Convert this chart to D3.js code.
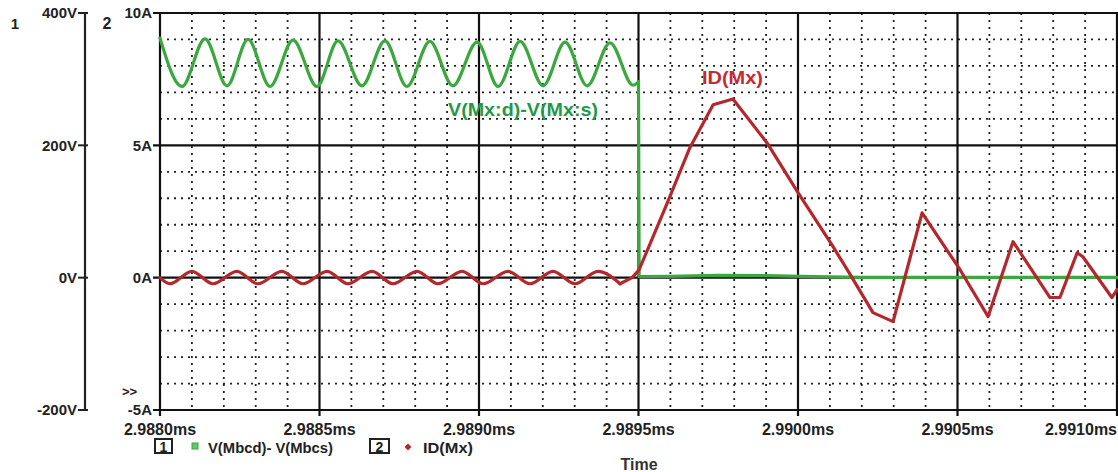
<!DOCTYPE html>
<html>
<head>
<meta charset="utf-8">
<script src="https://cdn.jsdelivr.net/npm/d3@7"></script>
<style>
  html, body { margin: 0; padding: 0; background: #fff; }
  svg { display: block; }
  text { font-family: "Liberation Sans", Arial, sans-serif; font-weight: bold; }
</style>
</head>
<body>
<svg id="chart" width="1118" height="472"></svg>
<script>
// ---------- data ----------
const timeTicks = [2.9880, 2.9885, 2.9890, 2.9895, 2.9900, 2.9905, 2.9910];
const timeTickLabels = ["2.9880ms", "2.9885ms", "2.9890ms", "2.9895ms", "2.9900ms", "2.9905ms", "2.9910ms"];
const voltTicks = [-200, 0, 200, 400];
const voltTickLabels = ["-200V", "0V", "200V", "400V"];
const currTicks = [-5, 0, 5, 10];
const currTickLabels = ["-5A", "0A", "5A", "10A"];
const seriesNames = ["V(Mbcd)- V(Mbcs)", "ID(Mx)"];
const traceLabels = ["V(Mx:d)-V(Mx:s)", "ID(Mx)"];

// V(Mx:d)-V(Mx:s) before switching (time ms, volts)
const vdsRippleTime = [2.988000, 2.988069, 2.988141, 2.988210, 2.988276, 2.988345, 2.988417, 2.988492, 2.988558, 2.988633, 2.988705, 2.988774, 2.988846, 2.988918, 2.988994, 2.989060, 2.989129, 2.989201, 2.989270, 2.989339, 2.989411, 2.989483, 2.989500];
const vdsRippleValue = [362, 289, 361, 290, 360, 289, 359, 289, 358, 290, 358, 289, 357, 290, 356, 289, 357, 290, 356, 290, 355, 291, 296];
// V(Mx:d)-V(Mx:s) after switching
const vdsAfterTime = [2.989500, 2.989502, 2.989600, 2.989750, 2.989900, 2.990050, 2.990200, 2.991000];
const vdsAfterValue = [296, 1.5, 2, 3.5, 3, 1.5, 0.5, 0.5];

// ID(Mx) before switching (time ms, amps)
const idRippleTime = [2.988000, 2.988031, 2.988100, 2.988166, 2.988241, 2.988307, 2.988382, 2.988448, 2.988524, 2.988589, 2.988665, 2.988730, 2.988806, 2.988871, 2.988947, 2.989013, 2.989091, 2.989160, 2.989232, 2.989301, 2.989373, 2.989442];
const idRippleValue = [0.0, -0.23, 0.24, -0.23, 0.24, -0.23, 0.24, -0.23, 0.24, -0.23, 0.24, -0.23, 0.24, -0.23, 0.24, -0.23, 0.24, -0.23, 0.24, -0.23, 0.24, -0.23];
// ID(Mx) after switching
const idAfterTime = [2.989442, 2.989480, 2.989502, 2.989589, 2.989661, 2.989734, 2.989796, 2.989903, 2.990000, 2.990110, 2.990160, 2.990235, 2.990298, 2.990389, 2.990508, 2.990596, 2.990674, 2.990790, 2.990821, 2.990875, 2.990893, 2.990984, 2.991000];
const idAfterValue = [-0.23, 0.0, 0.30, 2.79, 4.91, 6.53, 6.75, 5.09, 3.21, 1.17, 0.19, -1.32, -1.66, 2.45, 0.30, -1.47, 1.36, -0.75, -0.75, 0.94, 0.79, -0.75, -0.45];

// ---------- layout ----------
const svg = d3.select("#chart");
const plotL = 160, plotR = 1117, plotT = 13, plotB = 410;
const x = d3.scaleLinear().domain([2.9880, 2.9910]).range([plotL, plotR]);
const yI = d3.scaleLinear().domain([-5, 10]).range([plotB, plotT]);
const yV = d3.scaleLinear().domain([-200, 400]).range([plotB, plotT]);

const green = "#3aa83e", red = "#b3282c";

// minor grid (dotted)
const grid = svg.append("g");
const minorT = d3.range(0, 31).filter(i => i % 5 !== 0).map(i => 2.9880 + i * 0.0001);
grid.selectAll("line.mv").data(minorT).join("line")
  .attr("x1", d => x(d)).attr("x2", d => x(d))
  .attr("y1", plotT).attr("y2", plotB)
  .attr("stroke", "#222").attr("stroke-width", 1.8).attr("stroke-dasharray", "2,5");
const minorI = d3.range(-5, 11).filter(v => v % 5 !== 0);
grid.selectAll("line.mh").data(minorI).join("line")
  .attr("x1", plotL).attr("x2", plotR)
  .attr("y1", d => yI(d)).attr("y2", d => yI(d))
  .attr("stroke", "#222").attr("stroke-width", 1.8).attr("stroke-dasharray", "2,5");

// major grid (solid)
grid.selectAll("line.Mv").data(timeTicks).join("line")
  .attr("x1", d => x(d)).attr("x2", d => x(d))
  .attr("y1", plotT).attr("y2", plotB + 6)
  .attr("stroke", "#111").attr("stroke-width", 2.2);
grid.selectAll("line.Mh").data(currTicks).join("line")
  .attr("x1", plotL - 7).attr("x2", plotR + 2)
  .attr("y1", d => yI(d)).attr("y2", d => yI(d))
  .attr("stroke", "#111").attr("stroke-width", 2.2);

// voltage axis
const vAxisX = 85;
svg.append("line").attr("x1", vAxisX).attr("x2", vAxisX)
  .attr("y1", yV(400)).attr("y2", yV(-200))
  .attr("stroke", "#222").attr("stroke-width", 2.2);
svg.selectAll("line.vt").data(voltTicks).join("line")
  .attr("x1", vAxisX - 7).attr("x2", vAxisX + 3)
  .attr("y1", d => yV(d)).attr("y2", d => yV(d))
  .attr("stroke", "#222").attr("stroke-width", 2);
svg.selectAll("text.vl").data(voltTicks).join("text")
  .attr("x", 77).attr("y", d => yV(d)).attr("dy", "0.36em")
  .attr("text-anchor", "end").attr("font-size", 15).attr("fill", "#222")
  .text((d, i) => voltTickLabels[i]);
svg.selectAll("text.il").data(currTicks).join("text")
  .attr("x", 152).attr("y", d => yI(d)).attr("dy", "0.36em")
  .attr("text-anchor", "end").attr("font-size", 15).attr("fill", "#222")
  .text((d, i) => currTickLabels[i]);

svg.append("text").attr("x", 15).attr("y", 29).attr("text-anchor", "middle").attr("font-size", 15).attr("fill", "#222").text("1");
svg.append("text").attr("x", 107).attr("y", 29).attr("text-anchor", "middle").attr("font-size", 16).attr("fill", "#222").text("2");
svg.append("text").attr("x", 122).attr("y", 396).attr("font-size", 13).attr("fill", "#222").text(">>");

// x labels
const nT = timeTicks.length;
svg.selectAll("text.xl").data(timeTicks).join("text")
  .attr("x", (d, i) => i === nT - 1 ? plotR : x(d)).attr("y", 435)
  .attr("text-anchor", (d, i) => i === nT - 1 ? "end" : "middle")
  .attr("font-size", 16).attr("fill", "#222")
  .text((d, i) => timeTickLabels[i]);
svg.append("text").attr("x", 639).attr("y", 470).attr("text-anchor", "middle")
  .attr("font-size", 16).attr("fill", "#333").text("Time");

// traces
const ripple = d3.line().curve(d3.curveMonotoneX);
const lin = d3.line();
const traces = svg.append("g").attr("fill", "none").attr("stroke-width", 3.2).attr("stroke-linejoin", "round").attr("stroke-linecap", "round");
traces.append("path").attr("stroke", green)
  .attr("d", ripple(vdsRippleTime.map((t, i) => [x(t), yV(vdsRippleValue[i])])));
traces.append("path").attr("stroke", green)
  .attr("d", lin(vdsAfterTime.map((t, i) => [x(t), yV(vdsAfterValue[i])])));
traces.append("path").attr("stroke", red)
  .attr("d", ripple(idRippleTime.map((t, i) => [x(t), yI(idRippleValue[i])])));
traces.append("path").attr("stroke", red)
  .attr("d", lin(idAfterTime.map((t, i) => [x(t), yI(idAfterValue[i])])));

// trace labels
svg.append("text").attr("x", 448).attr("y", 116).attr("font-size", 18).attr("fill", "#1f9a48")
  .attr("textLength", 150).attr("lengthAdjust", "spacingAndGlyphs").text(traceLabels[0]);
svg.append("text").attr("x", 702).attr("y", 84).attr("font-size", 19).attr("fill", "#c62a2f")
  .attr("textLength", 61).attr("lengthAdjust", "spacingAndGlyphs").text(traceLabels[1]);

// legend
const leg = svg.append("g");
leg.append("rect").attr("x", 155).attr("y", 439).attr("width", 17).attr("height", 14)
  .attr("fill", "none").attr("stroke", "#222").attr("stroke-width", 2);
leg.append("text").attr("x", 163.5).attr("y", 452).attr("text-anchor", "middle").attr("font-size", 14).attr("fill", "#222").text("1");
leg.append("rect").attr("x", 192).attr("y", 443).attr("width", 6).attr("height", 6)
  .attr("fill", "#6cc36c").attr("stroke", "#3aa83e").attr("stroke-width", 1);
leg.append("text").attr("x", 208).attr("y", 453).attr("font-size", 15).attr("fill", "#222")
  .attr("textLength", 125).attr("lengthAdjust", "spacingAndGlyphs").text(seriesNames[0]);
leg.append("rect").attr("x", 370).attr("y", 439).attr("width", 19).attr("height", 14)
  .attr("fill", "none").attr("stroke", "#222").attr("stroke-width", 2);
leg.append("text").attr("x", 379.5).attr("y", 452).attr("text-anchor", "middle").attr("font-size", 14).attr("fill", "#222").text("2");
leg.append("path").attr("d", d3.symbol(d3.symbolDiamond2, 30)()).attr("transform", "translate(408,447)")
  .attr("fill", red);
leg.append("text").attr("x", 423).attr("y", 453).attr("font-size", 15).attr("fill", "#222")
  .attr("textLength", 50).attr("lengthAdjust", "spacingAndGlyphs").text(seriesNames[1]);
</script>
</body>
</html>
